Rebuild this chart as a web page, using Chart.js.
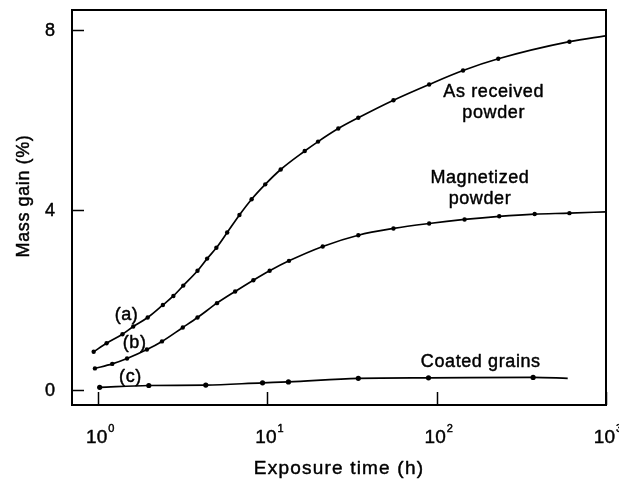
<!DOCTYPE html>
<html>
<head>
<meta charset="utf-8">
<script src="https://cdn.jsdelivr.net/npm/chart.js"></script>
<style>
  html, body { margin: 0; padding: 0; background: #fff; }
  #wrap { width: 619px; height: 482px; }
</style>
</head>
<body>
<div id="wrap"><canvas id="massChart" width="619" height="482"></canvas></div>
<script>
// (a) as received powder
const timeA = [0.94, 1.12, 1.39, 1.61, 1.96, 2.41, 2.78, 3.18, 3.86, 4.40, 4.99, 5.78, 6.83, 8.06, 9.7, 11.97, 16.6, 19.9, 26.2, 34.4, 55.5, 90.2, 143, 231, 608, 1000];
const gainA = [0.85, 1.04, 1.24, 1.41, 1.61, 1.89, 2.09, 2.32, 2.65, 2.92, 3.16, 3.50, 3.89, 4.24, 4.57, 4.90, 5.31, 5.52, 5.81, 6.05, 6.44, 6.79, 7.10, 7.36, 7.74, 7.87];
// (b) magnetized powder
const timeB = [0.956, 1.21, 1.48, 1.94, 2.38, 3.16, 3.86, 5.03, 6.44, 8.25, 10.3, 13.4, 21.2, 34.4, 55.5, 90.2, 146, 234, 379, 608, 1000];
const gainB = [0.48, 0.58, 0.70, 0.90, 1.08, 1.39, 1.61, 1.93, 2.19, 2.44, 2.65, 2.87, 3.19, 3.44, 3.59, 3.70, 3.79, 3.86, 3.91, 3.93, 3.96];
// (c) coated grains
const timeC = [1.02, 1.99, 4.32, 9.35, 13.3, 34.4, 89.4, 371, 594];
const gainC = [0.06, 0.10, 0.11, 0.16, 0.18, 0.26, 0.27, 0.28, 0.26];

const xTicks = [1, 10, 100, 1000];
const xTickExp = ['0', '1', '2', '3'];
const yTicks = [0, 4, 8];

const FONT = '"Liberation Sans", Arial, Helvetica, sans-serif';

function toPoints(xs, ys) {
    return xs.map(function(x, i) { return { x: x, y: ys[i] }; });
}

// last vertex only carries the curve to its end, no marker
function markers(n, r) {
    const out = [];
    for (let i = 0; i < n; i++) out.push(i === n - 1 ? 0 : r);
    return out;
}

function curve(xs, ys, r) {
    return {
        data: toPoints(xs, ys),
        borderColor: '#000',
        backgroundColor: '#000',
        borderWidth: 1.7,
        pointRadius: markers(xs.length, r),
        pointHoverRadius: 0,
        pointBorderWidth: 0,
        cubicInterpolationMode: 'monotone',
        fill: false
    };
}

// annotation text, anchored in data units
const notes = [
    { lines: ['As received', 'powder'], x: 217, y: 6.51 },
    { lines: ['Magnetized', 'powder'], x: 180, y: 4.60 },
    { lines: ['Coated grains'], x: 182, y: 0.52 }
];
const tags = [
    { text: '(a)', x: 1.47, y: 1.67 },
    { text: '(b)', x: 1.64, y: 1.04 },
    { text: '(c)', x: 1.55, y: 0.29 }
];

// filled text with a hairline stroke so the glyphs read a bit heavier
function text(ctx, s, x, y) {
    ctx.fillText(s, x, y);
    ctx.strokeText(s, x, y);
}

const framePlugin = {
    id: 'frame',
    afterDraw: function(chart) {
        const ctx = chart.ctx;
        const a = chart.chartArea;
        const xs = chart.scales.x;
        const ys = chart.scales.y;
        ctx.save();
        ctx.strokeStyle = '#000';
        ctx.fillStyle = '#000';

        // axis box
        ctx.lineWidth = 2;
        ctx.strokeRect(a.left, a.top, a.right - a.left, a.bottom - a.top);

        // inward tick marks
        ctx.lineWidth = 1.5;
        ctx.beginPath();
        yTicks.forEach(function(v) {
            const py = Math.round(ys.getPixelForValue(v)) + 0.5;
            ctx.moveTo(a.left, py);
            ctx.lineTo(a.left + 12, py);
        });
        xTicks.forEach(function(v) {
            const px = Math.round(xs.getPixelForValue(v)) + 0.5;
            ctx.moveTo(px, a.bottom);
            ctx.lineTo(px, a.bottom - 13);
        });
        ctx.stroke();

        ctx.lineWidth = 0.45;
        ctx.lineJoin = 'round';

        // y tick labels
        ctx.font = '18px ' + FONT;
        ctx.textAlign = 'center';
        ctx.textBaseline = 'middle';
        yTicks.forEach(function(v) {
            text(ctx, String(v), 50, ys.getPixelForValue(v) + 1);
        });

        // x tick labels as powers of ten
        xTicks.forEach(function(v, i) {
            const px = xs.getPixelForValue(v);
            ctx.textBaseline = 'alphabetic';
            ctx.font = '19px ' + FONT;
            ctx.textAlign = 'right';
            text(ctx, '10', px + 9, 443);
            ctx.font = '11px ' + FONT;
            ctx.textAlign = 'left';
            text(ctx, xTickExp[i], px + 10, 432);
        });

        ctx.letterSpacing = '0.6px';

        // axis titles
        ctx.font = '19px ' + FONT;
        ctx.textAlign = 'center';
        ctx.textBaseline = 'alphabetic';
        ctx.save();
        ctx.letterSpacing = '1.2px';
        text(ctx, 'Exposure time (h)', 339, 474);
        ctx.restore();

        ctx.save();
        ctx.translate(29, 196);
        ctx.rotate(-Math.PI / 2);
        ctx.font = '18px ' + FONT;
        text(ctx, 'Mass gain (%)', 0, 0);
        ctx.restore();

        // curve annotations
        ctx.font = '18px ' + FONT;
        ctx.textAlign = 'center';
        ctx.textBaseline = 'alphabetic';
        notes.forEach(function(n) {
            const px = xs.getPixelForValue(n.x);
            const py = ys.getPixelForValue(n.y);
            n.lines.forEach(function(line, k) {
                text(ctx, line, px, py + k * 21);
            });
        });

        ctx.textBaseline = 'middle';
        tags.forEach(function(t) {
            text(ctx, t.text, xs.getPixelForValue(t.x), ys.getPixelForValue(t.y));
        });

        ctx.restore();
    }
};

new Chart(document.getElementById('massChart'), {
    type: 'line',
    data: {
        datasets: [
            curve(timeA, gainA, 2.2),
            curve(timeB, gainB, 2.2),
            curve(timeC, gainC, 2.6)
        ]
    },
    options: {
        responsive: false,
        animation: false,
        events: [],
        layout: {
            padding: { left: 72, top: 10, right: 13, bottom: 77 }
        },
        scales: {
            x: {
                type: 'logarithmic',
                min: 0.743,
                max: 1000,
                display: false
            },
            y: {
                type: 'linear',
                min: -0.333,
                max: 8.444,
                display: false
            }
        },
        plugins: {
            legend: { display: false },
            tooltip: { enabled: false }
        }
    },
    plugins: [framePlugin]
});
</script>
</body>
</html>
